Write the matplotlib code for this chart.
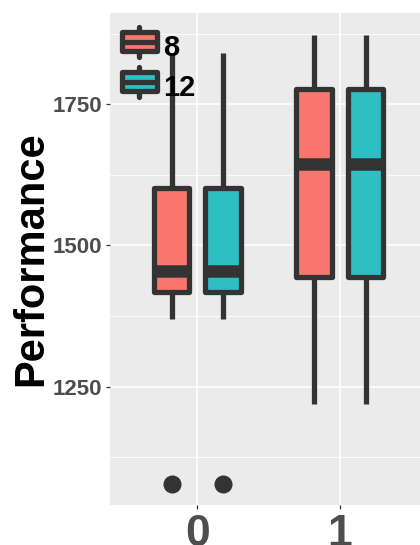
import matplotlib
matplotlib.use("Agg")
import matplotlib.pyplot as plt
from matplotlib.legend_handler import HandlerBase
from matplotlib.patches import Rectangle, Patch
from matplotlib.lines import Line2D

plt.rcParams['font.family'] = ['Liberation Sans', 'DejaVu Sans']

# ---- data ---------------------------------------------------------------
groups = ['0', '1']
series = ['8', '12']
series_colors = ['#F8766D', '#2EBFC4']

# five-number summaries, one entry per group
whisker_low = {'8': [1370, 1219], '12': [1370, 1219]}
quart_1 = {'8': [1418, 1445], '12': [1418, 1445]}
median = {'8': [1455, 1644], '12': [1455, 1644]}
quart_3 = {'8': [1602, 1777], '12': [1602, 1777]}
whisker_high = {'8': [1841, 1873], '12': [1841, 1873]}
outliers = {'8': [[1078], []], '12': [[1078], []]}

y_major = [1250, 1500, 1750]
y_minor = [1125, 1375, 1625, 1875]

# ---- style --------------------------------------------------------------
DARK = '#333333'
PANEL = '#EBEBEB'
LW = 3.8
DPI = 100

fig = plt.figure(figsize=(4.2, 5.45), dpi=DPI)
fig.patch.set_facecolor('white')
ax = fig.add_axes([110 / 420, 40 / 545, 310 / 420, (505 - 13.3) / 545])
ax.set_facecolor(PANEL)
for sp in ax.spines.values():
    sp.set_visible(False)

ax.set_xlim(-0.612, 1.561)
ax.set_ylim(1040.5, 1911)

# grid
ax.set_yticks(y_major)
ax.set_yticks(y_minor, minor=True)
ax.set_xticks(range(len(groups)))
ax.set_xticklabels(groups)
ax.grid(True, which='major', color='white', linewidth=1.2, zorder=0)
ax.grid(True, which='minor', axis='y', color='white', linewidth=0.6, zorder=0)
ax.set_axisbelow(True)

ax.tick_params(axis='both', which='major', color=DARK, length=2.6, width=0.9,
               labelcolor='#4D4D4D')
ax.tick_params(axis='y', which='minor', length=0)
ax.tick_params(axis='y', labelsize=16, pad=3.0)
ax.tick_params(axis='x', labelsize=32, pad=4.2)
for lab in ax.get_xticklabels() + ax.get_yticklabels():
    lab.set_fontweight('bold')

# ---- boxes --------------------------------------------------------------
offsets = [-0.18, 0.18]
for si, s in enumerate(series):
    stats = []
    for g in range(len(groups)):
        stats.append(dict(med=median[s][g], q1=quart_1[s][g], q3=quart_3[s][g],
                          whislo=whisker_low[s][g], whishi=whisker_high[s][g],
                          fliers=outliers[s][g]))
    pos = [g + offsets[si] for g in range(len(groups))]
    ax.bxp(stats, positions=pos, widths=0.25, patch_artist=True, showcaps=False,
           manage_ticks=False,
           boxprops=dict(facecolor=series_colors[si], edgecolor=DARK, linewidth=LW,
                         joinstyle='round'),
           medianprops=dict(color=DARK, linewidth=9, solid_capstyle='butt'),
           whiskerprops=dict(color=DARK, linewidth=LW, solid_capstyle='butt'),
           flierprops=dict(marker='o', markerfacecolor=DARK, markeredgecolor=DARK,
                           markersize=12))


# ---- legend -------------------------------------------------------------
class BoxKey(HandlerBase):
    def create_artists(self, legend, orig_handle, xdescent, ydescent,
                       width, height, fontsize, trans):
        x0 = -xdescent
        y0 = -ydescent + 0.14 * height
        cx = x0 + width / 2
        whisk = Line2D([cx, cx], [y0, y0 + height], color=DARK, lw=LW,
                       solid_capstyle='round')
        box = Rectangle((x0, y0 + 0.19 * height), width, 0.62 * height,
                        facecolor=orig_handle.get_facecolor(), edgecolor=DARK,
                        lw=LW, joinstyle='round')
        mid = Line2D([x0, x0 + width], [y0 + height / 2] * 2, color=DARK,
                     lw=LW, solid_capstyle='butt')
        for a in (whisk, box, mid):
            a.set_transform(trans)
        return [whisk, box, mid]


handles = [Patch(facecolor=c) for c in series_colors]
leg = ax.legend(handles, series, handler_map={Patch: BoxKey()},
                loc='upper left', bbox_to_anchor=(121.9 / 420, 1 - 31 / 545),
                bbox_transform=fig.transFigure, frameon=False,
                handlelength=1.19, handleheight=1.2, labelspacing=0.31,
                handletextpad=0.22, borderpad=0, borderaxespad=0,
                prop=dict(weight='bold', size=21))
for t in leg.get_texts():
    t.set_color('black')

# ---- axis title ---------------------------------------------------------
fig.text(31 / 420, 1 - 259 / 545, 'Performance', rotation=90, ha='center',
         va='center', fontsize=30, fontweight='bold', color='black')

fig.savefig('out.png', dpi=DPI)
